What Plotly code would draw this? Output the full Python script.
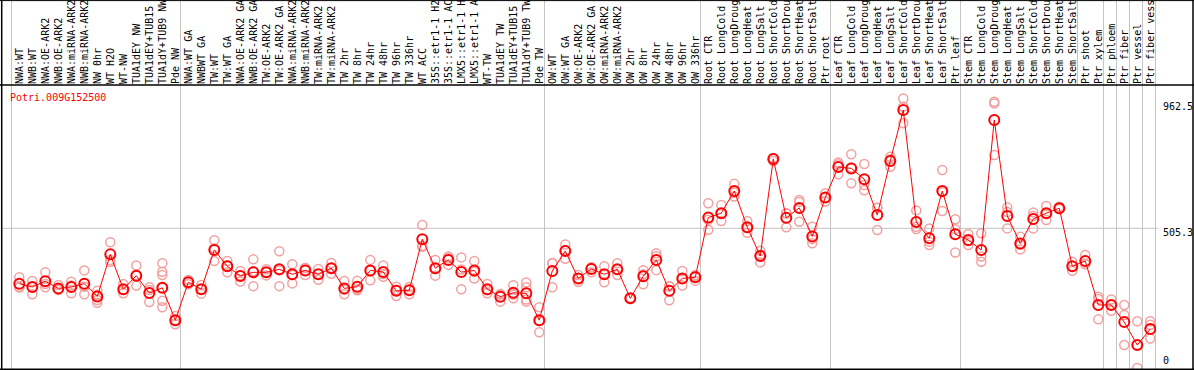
import plotly.graph_objects as go

W, H = 1194, 370

title_text = "Potri.009G152500"

sample_labels = [
    "NWA:WT", "NWB:WT", "NWA:OE-ARK2", "NWB:OE-ARK2", "NWA:miRNA-ARK2", "NWB:miRNA-ARK2",
    "NW 0hr", "WT H2O", "WT-NW", "TUA1dEY NW", "TUA1dEY+TUB15 NW", "TUA1dY+TUB9 NW", "Pde NW",
    "NWA:WT GA", "NWBWT GA", "TW:WT", "TW:WT GA", "NWA:OE-ARK2 GA", "NWB:OE-ARK2 GA",
    "TW:OE-ARK2", "TW:OE-ARK2 GA", "NWA:miRNA-ARK2", "NWB:miRNA-ARK2", "TW:miRNA-ARK2",
    "TW:miRNA-ARK2", "TW 2hr", "TW 8hr", "TW 24hr", "TW 48hr", "TW 96hr", "TW 336hr", "WT ACC",
    "35S::etr1-1 H2O", "35S::etr1-1 ACC", "LMX5::etr1-1 H2O", "LMX5::etr1-1 ACC", "WT-TW",
    "TUA1dEY TW", "TUA1dEY+TUB15 TW", "TUA1dY+TUB9 TW", "Pde TW",
    "OW:WT", "OW:WT GA", "OW:OE-ARK2", "OW:OE-ARK2 GA", "OW:miRNA-ARK2", "OW:miRNA-ARK2",
    "OW 2hr", "OW 8hr", "OW 24hr", "OW 48hr", "OW 96hr", "OW 336hr",
    "Root CTR", "Root LongCold", "Root LongDrought", "Root LongHeat", "Root LongSalt",
    "Root ShortCold", "Root ShortDrought", "Root ShortHeat", "Root ShortSalt", "Ptr root",
    "Leaf CTR", "Leaf LongCold", "Leaf LongDrought", "Leaf LongHeat", "Leaf LongSalt",
    "Leaf ShortCold", "Leaf ShortDrought", "Leaf ShortHeat", "Leaf ShortSalt", "Ptr leaf",
    "Stem CTR", "Stem LongCold", "Stem LongDrought", "Stem LongHeat", "Stem LongSalt",
    "Stem ShortCold", "Stem ShortDrought", "Stem ShortHeat", "Stem ShortSalt", "Ptr shoot",
    "Ptr xylem", "Ptr phloem", "Ptr fiber", "Ptr vessel", "Ptr fiber vessel",
]

mean_values = [
    305, 293, 314, 288, 293, 305, 259, 411, 285, 334, 271, 290, 173,
    310, 285, 427, 368, 333, 346, 346, 357, 339, 353, 339, 361, 288, 294, 353, 347,
    279, 281, 466, 361, 391, 347, 353, 285, 258, 272, 270, 173,
    351, 423, 324, 358, 339, 357, 252, 332, 391, 279, 324, 328,
    544, 560, 640, 509, 405, 756, 543, 579, 476, 617,
    727, 722, 683, 553, 749, 933, 528, 469, 640, 484,
    463, 427, 897, 550, 450, 539, 560, 578, 368, 387,
    228, 228, 166, 83, 141,
]

replicate_values = [
    [328, 294, 291], [315, 267, 293], [346, 292, 304], [300, 282, 286], [312, 270, 298],
    [353, 267, 294], [279, 265, 246, 236], [455, 391, 384], [304, 270, 282], [371, 298, 334],
    [292, 239, 282], [379, 348, 336, 289, 243, 220], [188, 158, 173],
    [318, 303, 310], [300, 269, 285], [462, 387, 432], [387, 346, 371], [351, 313, 335],
    [393, 296, 350], [357, 335, 346], [422, 296, 353], [375, 306, 336], [362, 336, 362],
    [358, 319, 340], [380, 341, 362], [315, 267, 283], [316, 285, 281], [391, 317, 352],
    [371, 330, 340], [294, 260, 282], [293, 267, 283], [517, 442, 438], [391, 334, 358],
    [403, 373, 397], [400, 285, 356], [387, 324, 348], [304, 270, 281], [268, 240, 266],
    [299, 252, 265], [309, 292, 248, 240], [220, 129, 170],
    [379, 292, 380], [447, 395, 427], [336, 312, 325], [364, 346, 364], [368, 310, 339],
    [379, 336, 356], [250, 252, 254], [354, 303, 339], [415, 354, 404], [297, 245, 295],
    [351, 298, 323], [336, 316, 332],
    [596, 500, 536], [590, 532, 558], [666, 620, 634], [532, 489, 506], [424, 382, 409],
    [760, 749, 759], [560, 509, 560], [608, 529, 600], [511, 451, 466], [632, 602, 617],
    [743, 701, 737], [773, 668, 725], [738, 662, 643], [580, 499, 580], [764, 728, 755],
    [975, 945, 885], [570, 503, 511], [505, 445, 457], [716, 568, 636], [538, 502, 418],
    [485, 445, 459], [487, 403, 384], [963, 957, 770], [581, 505, 564], [475, 429, 446],
    [562, 505, 550], [586, 535, 559], [583, 575, 576], [384, 352, 368], [409, 376, 376],
    [258, 176, 250], [248, 207, 229], [228, 192, 83], [169, 0, 83], [169, 156, 107],
]

group_end_indices = [-1, 12, 40, 52, 62, 72, 83, 84, 85, 86, 87]
header_only_group_ends = [81]

y_tick_values = [962.5, 505.3, 0]
y_tick_labels = ["962.5", "505.3", "0"]
grid_value = 505.3

# ---- layout geometry (pixels) ----
PL, PR, PT, PB = 1.7, 1156.0, 85.0, 369.3
X_RANGE = [-1.354, 87.44]
Y_RANGE = [-4.7, 1023.6]
FONT = "DejaVu Sans Mono"

def px_x(p):
    return p / W

def px_y(p):
    return (H - p) / H

n = len(sample_labels)
xs = list(range(n))

rep_x, rep_y = [], []
for i, reps in enumerate(replicate_values):
    for v in reps:
        rep_x.append(i)
        rep_y.append(v)

fig = go.Figure()
fig.add_trace(go.Scatter(
    x=rep_x, y=rep_y, mode="markers",
    marker=dict(symbol="circle-open", size=9, color="#f2a0a0", line=dict(width=1.5, color="#f2a0a0")),
    hoverinfo="skip", showlegend=False,
))
fig.add_trace(go.Scatter(
    x=xs, y=mean_values, mode="lines+markers",
    line=dict(color="#ff0000", width=1),
    marker=dict(symbol="circle-open", size=10, color="#ff0000", line=dict(width=2, color="#ff0000")),
    showlegend=False,
))

shapes = []
gray = "#c4c4c4"
for g in group_end_indices:
    xv = g + 0.4
    shapes.append(dict(type="line", xref="x", yref="paper", x0=xv, x1=xv,
                       y0=px_y(PB), y1=1, line=dict(color=gray, width=1), layer="below"))
for g in header_only_group_ends:
    xv = g + 0.4
    shapes.append(dict(type="line", xref="x", yref="paper", x0=xv, x1=xv,
                       y0=px_y(PT), y1=1, line=dict(color=gray, width=1), layer="below"))
shapes.append(dict(type="line", xref="paper", yref="y", x0=px_x(PL), x1=px_x(PR + 2),
                   y0=grid_value, y1=grid_value, line=dict(color=gray, width=1), layer="below"))
black = "#000000"
# frame
shapes.append(dict(type="line", xref="paper", yref="paper", x0=0, x1=1, y0=px_y(PT), y1=px_y(PT),
                   line=dict(color=black, width=1.5)))
shapes.append(dict(type="line", xref="paper", yref="paper", x0=0, x1=1, y0=px_y(0.6), y1=px_y(0.6),
                   line=dict(color=black, width=1)))
shapes.append(dict(type="line", xref="paper", yref="paper", x0=0, x1=1, y0=px_y(PB), y1=px_y(PB),
                   line=dict(color=black, width=1.5)))
shapes.append(dict(type="line", xref="paper", yref="paper", x0=px_x(PL), x1=px_x(PL), y0=0, y1=1,
                   line=dict(color=black, width=1.5)))
shapes.append(dict(type="line", xref="paper", yref="paper", x0=px_x(1193), x1=px_x(1193), y0=0, y1=1,
                   line=dict(color=black, width=1.5)))

annotations = [
    dict(text=title_text, xref="paper", yref="paper", x=px_x(8), y=px_y(97),
         xanchor="left", yanchor="middle", showarrow=False,
         font=dict(family=FONT, size=10, color="#ff0000")),
]
for v, t in zip(y_tick_values, y_tick_labels):
    annotations.append(dict(text=t, xref="paper", yref="y", x=px_x(1161), y=v,
                            xanchor="left", yanchor="top" if v > 0 else "bottom",
                            yshift=3 if v > 0 else 0,
                            showarrow=False, font=dict(family=FONT, size=10, color="#000000")))

fig.update_layout(
    width=W, height=H,
    margin=dict(l=0, r=0, t=0, b=0),
    paper_bgcolor="white", plot_bgcolor="white",
    xaxis=dict(domain=[px_x(PL), px_x(PR)], range=X_RANGE, side="top",
               tickmode="array", tickvals=xs, ticktext=sample_labels, tickangle=-90,
               tickfont=dict(family=FONT, size=10, color="#000000"),
               ticks="", showgrid=False, zeroline=False, showline=False, automargin=False),
    yaxis=dict(domain=[px_y(PB), px_y(PT)], range=Y_RANGE, showticklabels=False,
               showgrid=False, zeroline=False, showline=False, ticks=""),
    shapes=shapes, annotations=annotations, showlegend=False,
)

fig.write_html(
    "out.html",
    config={"displayModeBar": False},
    post_script="document.body.style.margin='0';document.body.style.padding='0';"
                "document.documentElement.style.margin='0';",
)
